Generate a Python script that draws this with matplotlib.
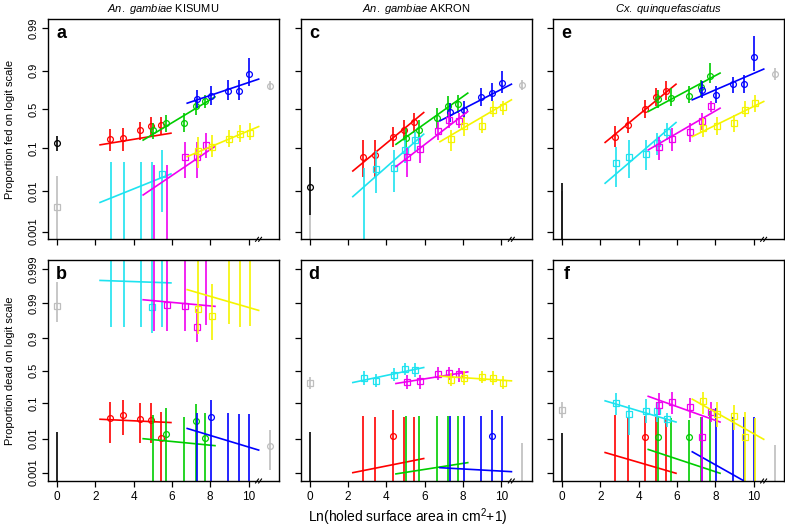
import matplotlib
matplotlib.use('Agg')
import matplotlib.pyplot as plt
from matplotlib.ticker import NullLocator

plt.rcParams['font.family'] = ['Liberation Sans', 'DejaVu Sans']
plt.rcParams['mathtext.fontset'] = 'custom'
plt.rcParams['mathtext.rm'] = 'Liberation Sans'
plt.rcParams['mathtext.it'] = 'Liberation Sans:italic'

# hole size groups, x = ln(holed area in cm2 + 1)
x_small = [2.77, 3.43, 4.34, 4.93, 5.44]
x_medium = [5.01, 5.70, 6.63, 7.24, 7.74]
x_large = [7.33, 8.03, 8.95, 9.52, 10.04]
sq_shift = 0.05
fit_small = [2.25, 5.95]
fit_medium = [4.5, 8.25]
fit_large = [6.8, 10.53]
x_ctrl_left = 0.0
x_ctrl_right = 11.1

# each series: (estimate, lower CI, upper CI, fitted line at both ends)
# None = no point shown (0 or 100 % observed)

# --- a: fed, An. gambiae KISUMU
a_red = ([0.159, 0.164, 0.236, 0.283, 0.291], [0.085, 0.089, 0.152, 0.182, 0.198],
         [0.246, 0.264, 0.335, 0.401, 0.401], [0.119, 0.207])
a_green = ([0.233, 0.323, 0.323, 0.541, 0.610], [0.157, 0.223, 0.223, 0.424, 0.517],
           [0.323, 0.424, 0.447, 0.632, 0.695], [0.15, 0.67])
a_blue = ([0.641, 0.683, 0.744, 0.744, 0.882], [0.517, 0.564, 0.632, 0.632, 0.785],
          [0.752, 0.791, 0.842, 0.842, 0.948], [0.587, 0.847])
a_cyan = ([None, None, None, None, 0.0255], [0, 0, 0, 0, 0.0031],
          [0.048, 0.048, 0.048, 0.048, 0.092], [0.0052, 0.0255])
a_magenta = ([None, None, 0.063, 0.063, 0.119], [0, 0, 0.020, 0.020, 0.060],
             [0.042, 0.042, 0.139, 0.139, 0.207], [0.0079, 0.11])
a_yellow = ([0.089, 0.109, 0.159, 0.201, 0.213], [0.035, 0.065, 0.109, 0.139, 0.152],
            [0.177, 0.192, 0.239, 0.295, 0.315], [0.065, 0.275])
a_black = (0.129, 0.089, 0.178)
a_grey_sq = (0.0041, 0, 0.0228)
a_grey_ci = (0.794, 0.752, 0.829)

# --- b: dead, An. gambiae KISUMU
b_red = ([0.0395, 0.048, 0.036, 0.035, 0.0106], [0.0075, 0.0126, 0.0072, 0.0072, 0],
         [0.109, 0.12, 0.103, 0.098, 0.0557], [0.036, 0.029])
b_green = ([None, 0.0132, None, 0.033, 0.0106], [0, 0, 0, 0, 0],
           [0.047, 0.072, 0.042, 0.094, 0.053], [0.0099, 0.0062])
b_blue = ([None, 0.042, None, None, None], [0, 0, 0, 0, 0],
          [0.053, 0.12, 0.053, 0.05, 0.052], [0.0196, 0.0046])
b_cyan = ([None, None, None, 0.987, None], [0.952, 0.952, 0.952, 0.928, 0.952],
          [1, 1, 1, 1, 1], [0.9978, 0.9974])
b_magenta = ([None, 0.9887, 0.988, 0.951, None], [0.935, 0.935, 0.935, 0.875, 0.956],
             [1, 1, 1, 0.985, 1], [0.9919, 0.9874])
b_yellow = ([0.985, 0.9755, None, None, None], [0.925, 0.887, 0.960, 0.951, 0.953],
            [1, 0.9972, 1, 1, 1], [0.9959, 0.9835])
b_black = (None, 0, 0.0158)
b_grey_sq = (0.988, 0.964, 0.9975)
b_grey_ci = (0.0061, 0.0012, 0.0176)

# --- c: fed, An. gambiae AKRON
c_red = ([0.065, 0.071, 0.172, 0.239, 0.335], [0.022, 0.022, 0.109, 0.152, 0.207],
         [0.152, 0.152, 0.275, 0.357, 0.447], [0.0299, 0.456])
c_green = ([0.164, 0.239, 0.387, 0.541, 0.578], [0.10, 0.152, 0.257, 0.401, 0.447],
           [0.257, 0.357, 0.517, 0.675, 0.695], [0.122, 0.715])
c_blue = ([0.461, 0.494, 0.666, 0.722, 0.815], [0.335, 0.378, 0.541, 0.610, 0.715],
          [0.587, 0.610, 0.769, 0.815, 0.895], [0.344, 0.806])
c_cyan = ([None, 0.033, 0.035, 0.092, 0.152], [0, 0.0087, 0.0095, 0.046, 0.085],
          [0.035, 0.085, 0.092, 0.152, 0.223], [0.0072, 0.198])
c_magenta = ([0.062, 0.097, 0.229, 0.357, 0.348], [0.022, 0.046, 0.152, 0.257, 0.257],
             [0.10, 0.164, 0.335, 0.47, 0.447], [0.038, 0.47])
c_yellow = ([0.157, 0.283, 0.287, 0.494, 0.531], [0.085, 0.178, 0.207, 0.401, 0.424],
            [0.239, 0.401, 0.378, 0.610, 0.610], [0.139, 0.632])
c_black = (0.0126, 0.0026, 0.0366)
c_grey_sq = (None, 0, 0.0026)
c_grey_ci = (0.80, 0.745, 0.842)

# --- d: dead, An. gambiae AKRON
d_red = ([None, None, 0.0118, None, None], [0, 0, 0, 0, 0],
         [0.045, 0.043, 0.065, 0.043, 0.043], [0.001, 0.0026])
d_green = ([None, None, None, None, None], [0, 0, 0, 0, 0],
           [0.045, 0.045, 0.045, 0.045, 0.045], [0.00092, 0.00197])
d_blue = ([None, None, None, 0.0118, None], [0, 0, 0, 0, 0],
          [0.045, 0.045, 0.045, 0.065, 0.045], [0.0014, 0.00107])
d_cyan = ([0.381, 0.335, 0.436, 0.531, 0.52], [0.273, 0.243, 0.33, 0.425, 0.397],
          [0.497, 0.441, 0.553, 0.635, 0.63], [0.31, 0.554])
d_magenta = ([0.32, 0.33, 0.452, 0.464, 0.441], [0.219, 0.225, 0.345, 0.35, 0.32],
             [0.425, 0.43, 0.565, 0.57, 0.553], [0.296, 0.48])
d_yellow = ([0.355, 0.381, 0.397, 0.381, 0.31], [0.26, 0.28, 0.30, 0.28, 0.22],
            [0.46, 0.49, 0.50, 0.49, 0.41], [0.409, 0.335])
d_black = (None, 0, 0.0158)
d_grey_sq = (0.306, 0.219, 0.397)
d_grey_ci = (None, 0, 0.0075)

# --- e: fed, Cx. quinquefasciatus
e_red = ([0.177, 0.294, 0.508, 0.666, 0.744], [0.105, 0.207, 0.378, 0.541, 0.632],
         [0.283, 0.401, 0.632, 0.769, 0.829], [0.134, 0.806])
e_green = ([0.641, 0.662, 0.683, 0.778, 0.870], [0.517, 0.541, 0.587, 0.675, 0.815],
           [0.752, 0.769, 0.785, 0.842, 0.932], [0.47, 0.886])
e_blue = ([0.752, 0.695, 0.809, 0.809, 0.950], [0.654, 0.587, 0.715, 0.715, 0.895],
          [0.829, 0.785, 0.865, 0.876, 0.984], [0.632, 0.907])
e_cyan = ([0.047, 0.062, 0.074, 0.129, 0.223], [0.0126, 0.020, 0.0317, 0.071, 0.152],
          [0.109, 0.152, 0.152, 0.207, 0.315], [0.0152, 0.323])
e_magenta = ([0.109, 0.157, 0.216, 0.344, 0.541], [0.054, 0.085, 0.139, 0.239, 0.47],
             [0.177, 0.257, 0.315, 0.447, 0.61], [0.092, 0.517])
e_yellow = ([0.257, 0.283, 0.323, 0.494, 0.587], [0.177, 0.192, 0.223, 0.401, 0.47],
            [0.378, 0.401, 0.424, 0.61, 0.695], [0.177, 0.61])
e_black = (None, 0, 0.0152)
e_grey_sq = (None, 0, 0.01)
e_grey_ci = (0.882, 0.842, 0.911)

# --- f: dead, Cx. quinquefasciatus
f_red = ([None, None, 0.0108, None, None], [0, 0, 0, 0, 0],
         [0.047, 0.042, 0.045, 0.043, 0.040], [0.0039, 0.00096])
f_green = ([0.0108, None, 0.0108, None, None], [0, 0, 0, 0, 0],
           [0.045, 0.040, 0.035, 0.043, 0.060], [0.0048, 0.00096])
f_blue = ([None, None, None, None, None], [0, 0, 0, 0, 0],
          [0.043, 0.072, 0.043, 0.043, 0.043], [0.0041, 0.00027])
f_cyan = ([0.104, 0.049, 0.062, 0.061, 0.0356], [0.047, 0.0126, 0.0285, 0.030, 0.022],
          [0.182, 0.089, 0.132, 0.110, 0.053], [0.115, 0.030])
f_magenta = ([0.092, 0.106, 0.077, 0.0108, 0.058], [0.047, 0.052, 0.040, 0, 0.030],
             [0.182, 0.193, 0.135, 0.043, 0.108], [0.150, 0.030])
f_yellow = ([0.113, 0.052, 0.044, 0.0108, None], [0.052, 0.022, 0.0176, 0, 0],
            [0.193, 0.108, 0.089, 0.058, 0.038], [0.127, 0.0095])
f_black = (None, 0, 0.0148)
f_grey_sq = (0.065, 0.038, 0.108)
f_grey_ci = (None, 0, 0.0064)

titles = [r'$\mathit{An.\ gambiae}$ KISUMU', r'$\mathit{An.\ gambiae}$ AKRON',
          r'$\mathit{Cx.\ quinquefasciatus}$']
fed_ticks = [0.001, 0.01, 0.1, 0.5, 0.9, 0.99]
dead_ticks = [0.001, 0.01, 0.1, 0.5, 0.9, 0.99, 0.999]

RED, GREEN, BLUE = '#FF0000', '#00CD00', '#0000FF'
CYAN, MAGENTA, YELLOW = '#1EE3F0', '#F000F0', '#F5F500'
GREY = '#BEBEBE'
LW = 1.2


def draw_series(ax, xs, data, xfit, color, marker, shift=0.0):
    est, lo, hi, fit = data
    x = [v + shift for v in xs]
    ax.vlines(x, lo, hi, color=color, lw=LW)
    px = [xv for xv, e in zip(x, est) if e is not None]
    py = [e for e in est if e is not None]
    ax.plot(px, py, ls='none', marker=marker, ms=4.2, mfc='none', mec=color, mew=0.9)
    ax.plot(xfit, fit, color=color, lw=LW)


def draw_ctrl(ax, x, data, color, marker):
    est, lo, hi = data
    ax.vlines([x], [lo], [hi], color=color, lw=LW)
    if est is not None:
        ax.plot([x], [est], ls='none', marker=marker, ms=4.2, mfc='none', mec=color, mew=0.9)


panels = [
    ('a', a_red, a_green, a_blue, a_cyan, a_magenta, a_yellow, a_black, a_grey_sq, a_grey_ci),
    ('b', b_red, b_green, b_blue, b_cyan, b_magenta, b_yellow, b_black, b_grey_sq, b_grey_ci),
    ('c', c_red, c_green, c_blue, c_cyan, c_magenta, c_yellow, c_black, c_grey_sq, c_grey_ci),
    ('d', d_red, d_green, d_blue, d_cyan, d_magenta, d_yellow, d_black, d_grey_sq, d_grey_ci),
    ('e', e_red, e_green, e_blue, e_cyan, e_magenta, e_yellow, e_black, e_grey_sq, e_grey_ci),
    ('f', f_red, f_green, f_blue, f_cyan, f_magenta, f_yellow, f_black, f_grey_sq, f_grey_ci),
]

fig = plt.figure(figsize=(7.85, 5.27), dpi=100)
lefts = [0.0611, 0.3831, 0.7045]
width = 0.2945
bottoms = [0.5459, 0.0873]
height = 0.4185

for i, (letter, red, green, blue, cyan, magenta, yellow, black, grey_sq, grey_ci) in enumerate(panels):
    col, row = i // 2, i % 2
    ax = fig.add_axes([lefts[col], bottoms[row], width, height])
    ax.set_yscale('logit', nonpositive='clip')

    draw_series(ax, x_small, red, fit_small, RED, 'o')
    draw_series(ax, x_medium, green, fit_medium, GREEN, 'o')
    draw_series(ax, x_large, blue, fit_large, BLUE, 'o')
    draw_series(ax, x_small, cyan, fit_small, CYAN, 's', sq_shift)
    draw_series(ax, x_medium, magenta, fit_medium, MAGENTA, 's', sq_shift)
    draw_series(ax, x_large, yellow, fit_large, YELLOW, 's', sq_shift)
    draw_ctrl(ax, x_ctrl_left, grey_sq, GREY, 's')
    draw_ctrl(ax, x_ctrl_left, black, 'black', 'o')
    draw_ctrl(ax, x_ctrl_right, grey_ci, GREY, 'o')

    ax.set_xlim(-0.47, 11.6)
    if row == 0:
        ax.set_ylim(0.00065, 0.99406)
        ticks = fed_ticks
    else:
        ax.set_ylim(0.000569, 0.999431)
        ticks = dead_ticks
    ax.set_yticks(ticks)
    ax.yaxis.set_minor_locator(NullLocator())
    ax.set_xticks([0, 2, 4, 6, 8, 10])
    if col == 0:
        ax.set_yticklabels([str(t) for t in ticks], rotation=90, va='center', fontsize=8)
    else:
        ax.set_yticklabels([])
    if row == 1:
        ax.set_xticklabels(['0', '2', '4', '6', '8', '10'], fontsize=8.5)
    else:
        ax.set_xticklabels([])
    ax.tick_params(direction='out', length=4, width=0.9, pad=3)
    for sp in ax.spines.values():
        sp.set_linewidth(1.0)

    if row == 0:
        ax.set_title(titles[col], fontsize=8, pad=5)

    ax.text(0.058, 0.935, letter, transform=ax.transAxes, fontsize=13,
            fontweight='bold', ha='center', va='center')

    # axis break mark on the x axis
    tr = ax.get_xaxis_transform()
    for xb in (10.37, 10.53):
        ax.plot([xb, xb + 0.15], [-0.009, 0.009], color='black', lw=0.8,
                transform=tr, clip_on=False)

fig.text(0.013, 0.755, 'Proportion fed on logit scale', rotation=90,
         ha='center', va='center', fontsize=8)
fig.text(0.013, 0.297, 'Proportion dead on logit scale', rotation=90,
         ha='center', va='center', fontsize=8)
fig.text(0.52, 0.019, r'Ln(holed surface area in cm$^2$+1)', ha='center',
         va='center', fontsize=10)

fig.savefig('out.png', dpi=100)
